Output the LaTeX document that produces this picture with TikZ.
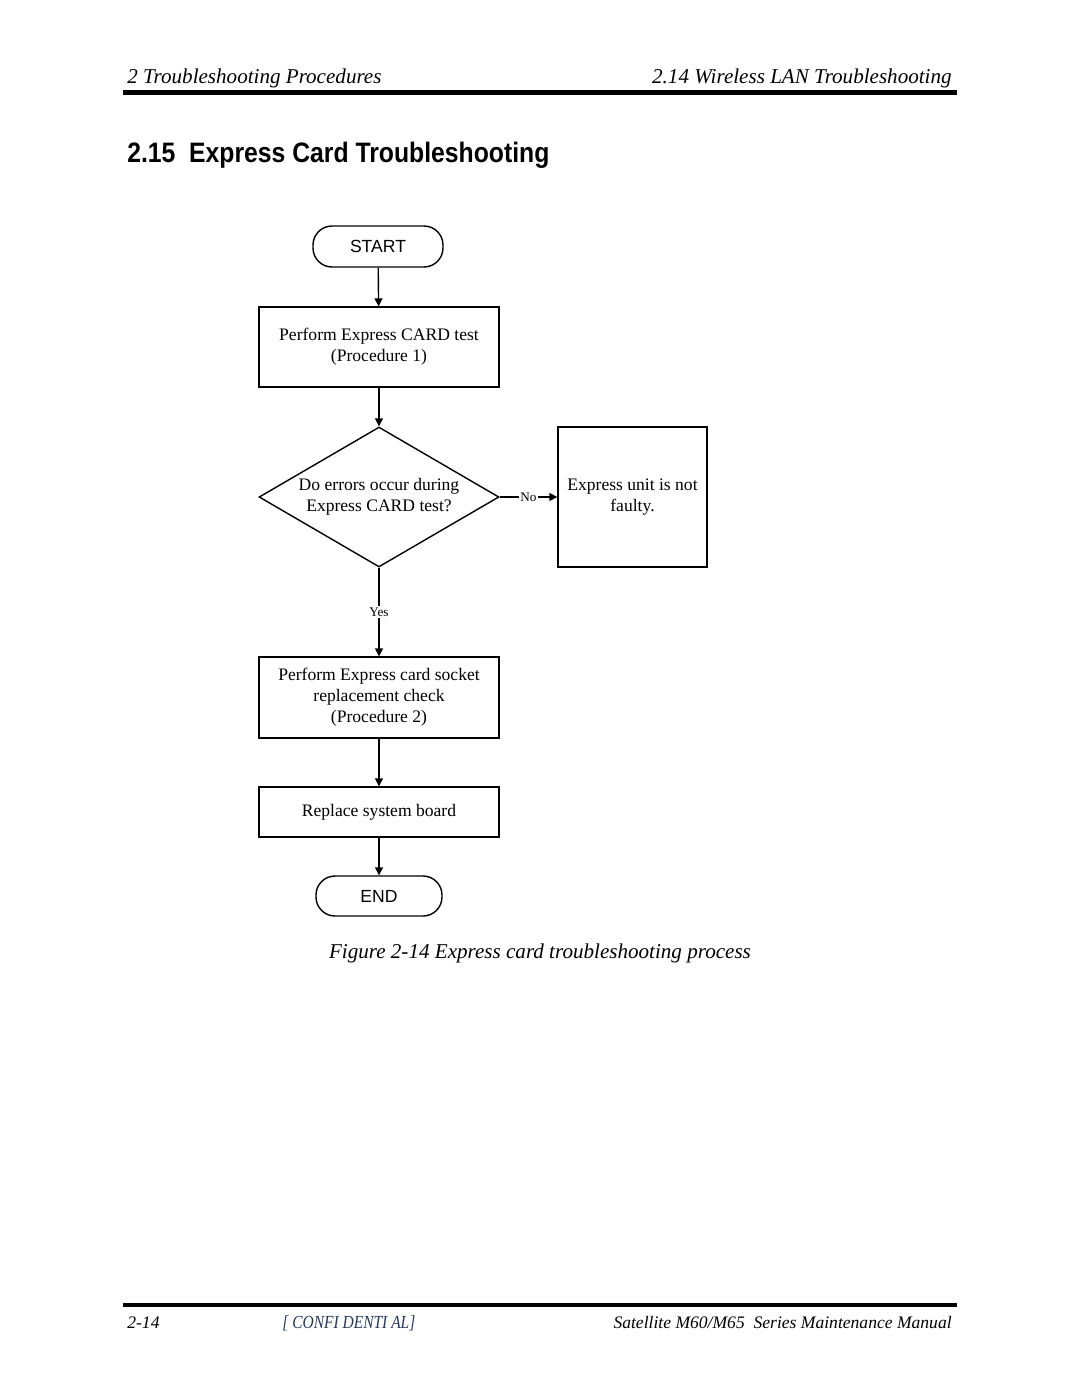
\documentclass[tikz,border=0pt]{standalone}
\usepackage{fontspec}
\setmainfont{Liberation Serif}
\setsansfont{Liberation Sans}
\newfontfamily\titlefont{Liberation Sans}[FakeStretch=0.88]
\newfontfamily\conffont{Liberation Serif}[FakeStretch=0.84]
\usetikzlibrary{arrows.meta,shapes.geometric}

\definecolor{confblue}{RGB}{35,55,95}

\begin{document}
\begin{tikzpicture}[x=0.02cm,y=-0.02cm,>={Triangle[length=4.5pt,width=4.5pt]},
  box/.style={draw,line width=0.8pt,minimum width=4.8cm,minimum height=1.6cm,align=center,inner sep=0pt,font=\fontsize{10}{12}\selectfont},
  term/.style={draw,line width=0.8pt,rounded corners=0.38cm,minimum width=2.6cm,minimum height=0.82cm,inner sep=0pt,font=\sffamily\fontsize{10}{12}\selectfont},
  decision/.style={draw,line width=0.8pt,diamond,aspect=1.714,minimum width=4.8cm,minimum height=2.8cm,inner sep=0pt,align=center,font=\fontsize{10}{12}\selectfont},
  tag/.style={fill=white,inner sep=1pt,font=\fontsize{7.5}{9}\selectfont}]

\useasboundingbox (0,0) rectangle (1080,1397);

% page head
\node [anchor=base west,inner sep=0pt,font=\itshape\fontsize{12}{14}\selectfont] (headl) at (127,83) {2 Troubleshooting Procedures};
\node [anchor=base east,inner sep=0pt,font=\itshape\fontsize{12}{14}\selectfont] (headr) at (952,83) {2.14 Wireless LAN Troubleshooting};
\draw [line width=0.1cm] (123,92.5) -- (957,92.5);

\node [anchor=base west,inner sep=0pt,font=\titlefont\bfseries\fontsize{16}{19}\selectfont] (title) at (127,162) {2.15\ \ Express Card Troubleshooting};

% flow chart
\node [term] (start) at (378,246.5) {START};
\node [box] (card) at (379,347) {Perform Express CARD test\\(Procedure 1)};
\node [decision] (errors) at (379,497) {Do errors occur during\\Express CARD test?};
\node [box,minimum width=2.98cm,minimum height=2.8cm] (notfaulty) at (632.5,497) {Express unit is not\\faulty.};
\node [box,minimum height=1.62cm] (socket) at (379,697.5) {Perform Express card socket\\replacement check\\(Procedure 2)};
\node [box,minimum height=1cm] (board) at (379,812) {Replace system board};
\node [term,minimum width=2.52cm,minimum height=0.8cm] (end) at (379,896) {END};

\path[->,line width=0.8pt]
	(start) edge (card)
	(card) edge (errors)
	(errors) edge node [tag] {No} (notfaulty)
	(errors) edge node [tag] {Yes} (socket)
	(socket) edge (board)
	(board) edge (end)
;

\node [anchor=base,inner sep=0pt,font=\itshape\fontsize{12}{14}\selectfont] (caption) at (540,958) {Figure 2-14 Express card troubleshooting process};

% page foot
\draw [line width=0.08cm] (123,1305) -- (957,1305);
\node [anchor=base west,inner sep=0pt,font=\itshape\fontsize{10}{12}\selectfont] (page) at (127,1328) {2-14};
\node [anchor=base west,inner sep=0pt,text=confblue,font=\conffont\itshape\fontsize{10.5}{12}\selectfont] (conf) at (282,1328) {[ CONFI DENTI AL]};
\node [anchor=base east,inner sep=0pt,font=\itshape\fontsize{10}{12}\selectfont] (manual) at (952,1328) {Satellite M60/M65\ \ Series Maintenance Manual};

\end{tikzpicture}
\end{document}
